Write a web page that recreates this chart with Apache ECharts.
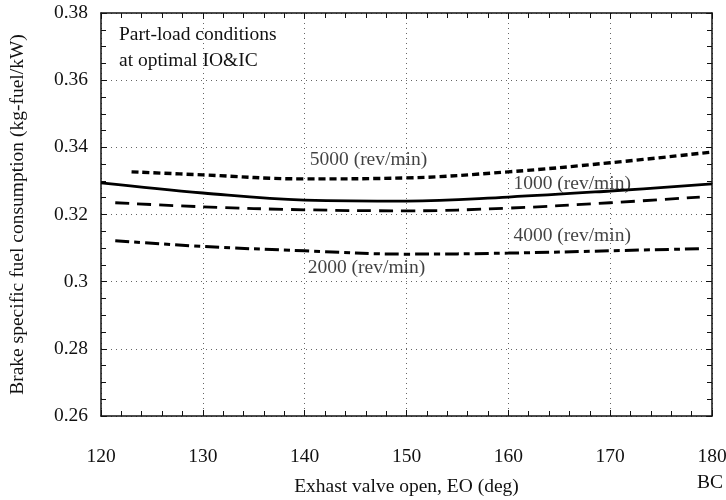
<!DOCTYPE html>
<html>
<head>
<meta charset="utf-8">
<script src="https://cdn.jsdelivr.net/npm/echarts@6/dist/echarts.min.js"></script>
<style>
  html, body { margin: 0; padding: 0; background: #fff; }
  #chart { width: 726px; height: 500px; }
</style>
</head>
<body>
<div id="chart"></div>
<script>
// Brake specific fuel consumption vs exhaust valve opening, part-load
const xTicks = [120, 130, 140, 150, 160, 170, 180];

const eo1000 = [120, 130, 140, 150, 160, 170, 180];
const bsfc1000 = [0.3294, 0.3264, 0.3243, 0.3240, 0.3252, 0.3270, 0.3291];

const eo5000 = [123, 130, 140, 150, 160, 170, 180];
const bsfc5000 = [0.3327, 0.3318, 0.3306, 0.3309, 0.3327, 0.3354, 0.3386];

const eo4000 = [121.4, 130, 140, 150, 160, 170, 178.8];
const bsfc4000 = [0.3235, 0.3223, 0.3214, 0.3211, 0.3219, 0.3235, 0.3252];

const eo2000 = [121.4, 130, 140, 150, 160, 170, 178.8];
const bsfc2000 = [0.3122, 0.3105, 0.3092, 0.3082, 0.3085, 0.3092, 0.3098];

// curve labels: [text, EO at left edge, BSFC at text middle]
const curveLabels = [
  ['5000 (rev/min)', 140.5, 0.3363],
  ['1000 (rev/min)', 160.5, 0.3291],
  ['4000 (rev/min)', 160.5, 0.3136],
  ['2000 (rev/min)', 140.3, 0.3041]
];

const FONT = '"Liberation Serif", "DejaVu Serif", serif';
const FS = 19.5;
const INK = '#111';

const zip = (xs, ys) => xs.map((x, i) => [x, ys[i]]);

const chart = echarts.init(document.getElementById('chart'), null, { renderer: 'canvas' });

const baseX = {
  type: 'value', min: 120, max: 180, interval: 10,
  axisLine: { show: true, onZero: false, lineStyle: { color: INK, width: 1.5 } },
  axisTick: { show: true, inside: true, length: 6, lineStyle: { color: INK, width: 1 } },
  minorTick: { show: true, splitNumber: 5, length: 5, lineStyle: { color: INK, width: 1 } }
};
const baseY = {
  type: 'value', min: 0.26, max: 0.38, interval: 0.02,
  axisLine: { show: true, onZero: false, lineStyle: { color: INK, width: 1.5 } },
  axisTick: { show: true, inside: true, length: 6, lineStyle: { color: INK, width: 1 } },
  minorTick: { show: true, splitNumber: 4, length: 5, lineStyle: { color: INK, width: 1 } }
};

function lineSeries(name, xs, ys, dash, width) {
  return {
    name, type: 'line', xAxisIndex: 0, yAxisIndex: 0,
    data: zip(xs, ys), smooth: 0.4, symbol: 'none',
    lineStyle: { color: '#000', width: width, type: dash, cap: 'butt' },
    z: 5
  };
}

chart.setOption({
  animation: false,
  backgroundColor: '#fff',
  grid: { left: 101, right: 14, top: 13, bottom: 84, containLabel: false, outerBoundsMode: 'none' },
  xAxis: [
    Object.assign({}, baseX, {
      position: 'bottom',
      name: 'Exhast valve open, EO (deg)', nameLocation: 'middle', nameGap: 61,
      nameTextStyle: { fontFamily: FONT, fontSize: FS, color: INK },
      axisLabel: { margin: 31, fontFamily: FONT, fontSize: FS, color: INK },
      splitLine: { show: true, lineStyle: { color: '#666', width: 1, type: [1, 4] } }
    }),
    Object.assign({}, baseX, {
      position: 'top', axisLabel: { show: false }, splitLine: { show: false }
    })
  ],
  yAxis: [
    Object.assign({}, baseY, {
      position: 'left',
      name: 'Brake specific fuel consumption (kg-fuel/kW)', nameLocation: 'middle', nameGap: 73,
      nameTextStyle: { fontFamily: FONT, fontSize: FS, color: INK },
      axisLabel: {
        margin: 13, fontFamily: FONT, fontSize: FS, color: INK,
        formatter: v => String(parseFloat(v.toFixed(2)))
      },
      splitLine: { show: true, lineStyle: { color: '#666', width: 1, type: [1, 4] } }
    }),
    Object.assign({}, baseY, {
      position: 'right', axisLabel: { show: false }, splitLine: { show: false }
    })
  ],
  series: [
    lineSeries('1000', eo1000, bsfc1000, 'solid', 2.8),
    lineSeries('5000', eo5000, bsfc5000, [7, 4], 3.4),
    lineSeries('4000', eo4000, bsfc4000, [14, 8], 2.8),
    lineSeries('2000', eo2000, bsfc2000, [14, 5, 6, 5], 3),
    {
      name: 'labels', type: 'scatter', xAxisIndex: 0, yAxisIndex: 0,
      symbolSize: 0, silent: true, z: 6,
      data: curveLabels.map(l => ({ value: [l[1], l[2]], name: l[0] })),
      label: {
        show: true, position: 'right', distance: 0,
        formatter: p => p.name,
        fontFamily: FONT, fontSize: FS, color: INK
      }
    }
  ],
  graphic: [
    { type: 'text', left: 119, top: 25,
      style: { text: 'Part-load conditions', font: FS + 'px ' + FONT, fill: INK } },
    { type: 'text', left: 119, top: 51,
      style: { text: 'at optimal IO&IC', font: FS + 'px ' + FONT, fill: INK } },
    { type: 'text', left: 697, top: 473,
      style: { text: 'BC', font: FS + 'px ' + FONT, fill: INK } }
  ]
});
</script>
</body>
</html>
